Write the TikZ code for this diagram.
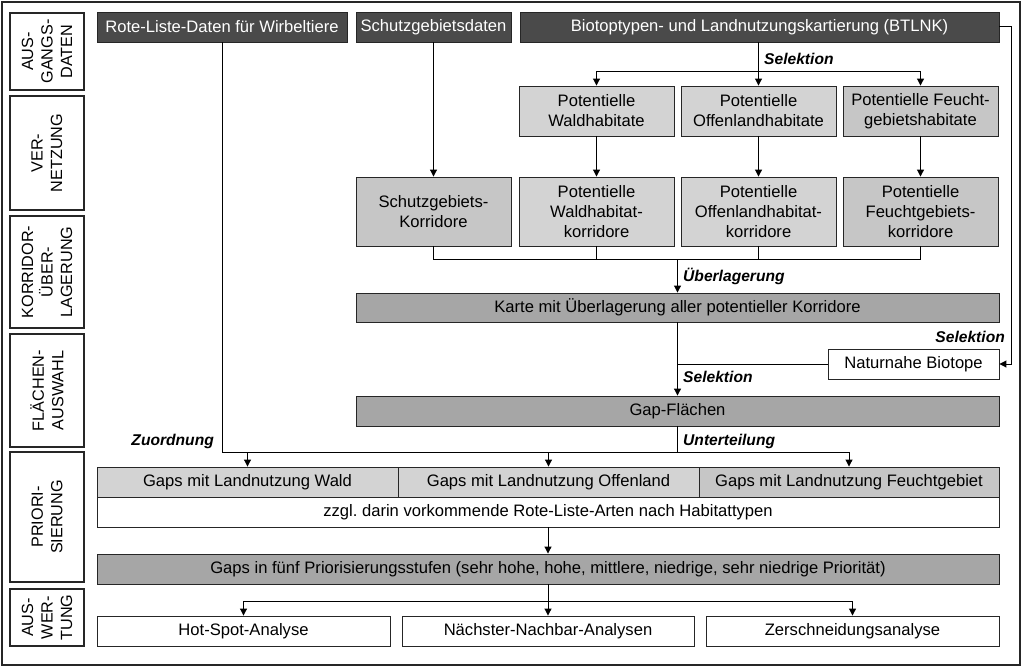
\documentclass[tikz,border=0pt]{standalone}
\usepackage{fontspec}
\setmainfont{Liberation Sans}
\usetikzlibrary{arrows.meta}
\definecolor{dk}{HTML}{4A4A4A}
\definecolor{md}{HTML}{A6A6A6}
\definecolor{lt}{HTML}{D3D3D3}
\definecolor{lt2}{HTML}{C6C6C6}
\begin{document}
\frenchspacing
\begin{tikzpicture}[x=1pt,y=-1pt,
  every node/.style={font=\fontsize{16.6}{20}\selectfont},
  bx/.style={draw=black!85, line width=0.9pt, inner sep=0pt, align=center, anchor=center},
  dark/.style={bx, fill=dk, text=white},
  mid/.style={bx, fill=md},
  light/.style={bx, fill=lt},
  light2/.style={bx, fill=lt2},
  wbox/.style={bx, fill=white},
  side/.style={draw=black!85, line width=1.2pt, fill=white, rotate=90, inner sep=0pt, align=center, minimum height=74pt,
     font=\fontsize{16.2}{19.5}\selectfont},
  lab/.style={inner sep=0pt, font=\fontsize{15.6}{18}\selectfont\bfseries\itshape},
  ln/.style={line width=1pt, draw=black},
  arr/.style={ln, -{Triangle[length=7pt,width=7pt]}}
]
\useasboundingbox (0,0) rectangle (1024,668);
\draw[line width=1.2pt, draw=black!85] (2,2) rectangle (1020,665);

% side labels
\node[side, minimum width=77pt] (L1) at (47,51.5) {AUS-\\GANGS-\\DATEN};
\node[side, minimum width=114pt] (L2) at (47,153) {VER-\\NETZUNG};
\node[side, minimum width=112pt] (L3) at (47,272) {KORRIDOR-\\ÜBER-\\LAGERUNG};
\node[side, minimum width=113pt] (L4) at (47,390.5) {FLÄCHEN-\\AUSWAHL};
\node[side, minimum width=130pt] (L5) at (47,517) {PRIORI-\\SIERUNG};
\node[side, minimum width=57pt] (L6) at (47,617.5) {AUS-\\WER-\\TUNG};

% top row
\node[dark, minimum width=250pt, minimum height=30pt] (rl) at (222,27) {Rote-Liste-Daten für Wirbeltiere};
\node[dark, minimum width=155pt, minimum height=30pt] (sg) at (433.5,27) {Schutzgebietsdaten};
\node[dark, minimum width=479pt, minimum height=30pt] (bt) at (759.5,27) {Biotoptypen- und Landnutzungskartierung (BTLNK)};

% habitats
\node[light, minimum width=155pt, minimum height=50pt] (pw) at (596.5,111) {Potentielle\\Waldhabitate};
\node[light, minimum width=155pt, minimum height=50pt] (po) at (758.5,111) {Potentielle\\Offenlandhabitate};
\node[light2, minimum width=155pt, minimum height=50pt] (pf) at (920.5,111) {Potentielle Feucht-\\gebietshabitate};

% corridors
\node[light2, minimum width=155pt, minimum height=69pt] (sk) at (433.5,211.5) {Schutzgebiets-\\Korridore};
\node[light, minimum width=155pt, minimum height=69pt] (kw) at (596.5,211.5) {Potentielle\\Waldhabitat-\\korridore};
\node[light, minimum width=155pt, minimum height=69pt] (ko) at (758.5,211.5) {Potentielle\\Offenlandhabitat-\\korridore};
\node[light2, minimum width=155pt, minimum height=69pt] (kf) at (920.5,211.5) {Potentielle\\Feuchtgebiets-\\korridore};

% overlay and gaps
\node[mid, minimum width=643pt, minimum height=29pt] (karte) at (677.5,307.5) {Karte mit Überlagerung aller potentieller Korridore};
\node[wbox, minimum width=171pt, minimum height=30pt] (nb) at (913.5,364) {Naturnahe Biotope};
\node[mid, minimum width=643pt, minimum height=30pt] (gap) at (677.5,411) {Gap-Flächen};

% prioritisation
\node[light, minimum width=301pt, minimum height=30pt] (gw) at (247.5,482) {Gaps mit Landnutzung Wald};
\node[light, minimum width=301pt, minimum height=30pt] (go) at (548.5,482) {Gaps mit Landnutzung Offenland};
\node[light2, minimum width=300pt, minimum height=30pt] (gf) at (849,482) {Gaps mit Landnutzung Feuchtgebiet};
\node[wbox, minimum width=902pt, minimum height=30pt] (zz) at (548,512) {zzgl.\ darin vorkommende Rote-Liste-Arten nach Habitattypen};
\node[mid, minimum width=902pt, minimum height=30pt] (g5) at (548,569) {Gaps in fünf Priorisierungsstufen (sehr hohe, hohe, mittlere, niedrige, sehr niedrige Priorität)};

% evaluation
\node[wbox, minimum width=293pt, minimum height=30pt] (hs) at (243.5,631) {Hot-Spot-Analyse};
\node[wbox, minimum width=292pt, minimum height=30pt] (nn) at (548,631) {Nächster-Nachbar-Analysen};
\node[wbox, minimum width=293pt, minimum height=30pt] (zs) at (852.5,631) {Zerschneidungsanalyse};

% connectors
\draw[arr] (sg.south) -- (sk.north);
\coordinate (s1) at (758.5,72);
\draw[ln] (bt.south -| s1) -- (s1);
\draw[arr] (s1) -| (pw.north);
\draw[arr] (s1) -- (po.north);
\draw[arr] (s1) -| (pf.north);
\draw[arr] (pw) -- (kw);
\draw[arr] (po) -- (ko);
\draw[arr] (pf) -- (kf);

\coordinate (m) at (677.5,259);
\draw[ln] (sk.south) |- (m);
\draw[ln] (kw.south) |- (m);
\draw[ln] (ko.south) |- (m);
\draw[ln] (kf.south) |- (m);
\draw[arr] (m) -- (karte.north);

\coordinate (r1) at (1011,27);
\draw[arr] (bt.east) -- (r1) |- (nb.east);
\draw[arr] (karte.south) -- (gap.north);
\coordinate (j1) at (677.5,364);
\draw[ln] (nb.west) -- (j1);

\coordinate (h) at (677.5,452);
\draw[ln] (gap.south) -- (h);
\draw[ln] (rl.south) |- (h);
\draw[arr] (gw.north |- h) -- (gw.north);
\draw[arr] (go.north |- h) -- (go.north);
\draw[arr] (h) -| (gf.north);

\draw[arr] (zz.south) -- (g5.north);
\coordinate (a) at (548,601);
\draw[ln] (g5.south) -- (a);
\draw[arr] (a) -| (hs.north);
\draw[arr] (a) -- (nn.north);
\draw[arr] (a) -| (zs.north);

% labels
\node[lab, anchor=west] (t1) at (764,59) {Selektion};
\node[lab, anchor=west] (t2) at (683,276) {Überlagerung};
\node[lab, anchor=east] (t3) at (1005,337) {Selektion};
\node[lab, anchor=west] (t4) at (683,377) {Selektion};
\node[lab, anchor=west] (t5) at (683,441) {Unterteilung};
\node[lab, anchor=east] (t6) at (214,441) {Zuordnung};
\end{tikzpicture}
\end{document}
